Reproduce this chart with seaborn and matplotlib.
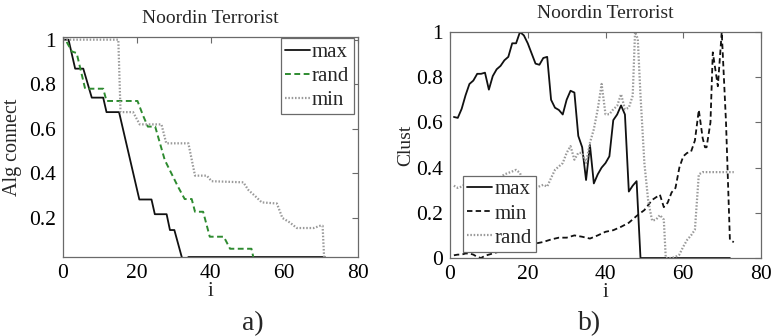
import matplotlib
matplotlib.use("Agg")
import matplotlib.pyplot as plt
import seaborn as sns
from matplotlib.ticker import FuncFormatter

# ---------------- data ----------------
# Panel a) Algebraic connectivity vs i
a_max_x = [0, 1.5, 3.3, 5.5, 7.8, 10.9, 11.8, 15.2, 20.7, 24, 24.9, 28.1, 29, 30.2, 32.2, 33, 34, 71]
a_max_y = [1, 1, 0.87, 0.87, 0.74, 0.74, 0.675, 0.675, 0.283, 0.283, 0.217, 0.217, 0.146, 0.146, 0.025, 0.0, 0.025, 0.025]

a_rand_x = [1, 2.4, 3.7, 6, 10.9, 11.8, 20.2, 21.7, 23, 25, 27.6, 31.2, 33, 34.9, 35.8, 38, 39.8, 43.6, 45.3, 51.1, 51.6]
a_rand_y = [0.99, 0.947, 0.94, 0.78, 0.78, 0.725, 0.725, 0.66, 0.61, 0.61, 0.46, 0.34, 0.285, 0.285, 0.228, 0.228, 0.116, 0.116, 0.062, 0.062, 0.025]

a_min_x = [0, 15, 15.6, 19, 20.8, 26.7, 28, 34, 35.8, 39, 40.3, 48.9, 50.3, 52, 53.9, 58, 59.5, 61.5, 63.4, 68, 69.7, 70.4, 70.8]
a_min_y = [1, 1, 0.675, 0.675, 0.62, 0.62, 0.535, 0.535, 0.39, 0.39, 0.365, 0.36, 0.325, 0.3, 0.27, 0.265, 0.2, 0.18, 0.155, 0.155, 0.165, 0.165, 0.025]

# Panel b) Clustering vs i
b_max_x = [1, 2, 3, 4, 5, 6, 7, 8, 9, 10, 11, 12, 13, 14, 15, 16, 17, 18, 19, 20,
           21, 22, 23, 24, 25, 26, 27, 28, 29, 30, 31, 32, 33, 34, 35, 36, 37, 38, 39, 40,
           41, 42, 43, 44, 45, 46, 47, 48, 49, 72]
b_max_y = [0.624, 0.62, 0.66, 0.72, 0.77, 0.785, 0.815, 0.815, 0.82, 0.745, 0.805, 0.835, 0.85, 0.875, 0.89, 0.95, 0.95, 1.0, 0.985, 0.95,
           0.905, 0.86, 0.855, 0.885, 0.89, 0.70, 0.665, 0.655, 0.635, 0.70, 0.74, 0.732, 0.54, 0.49, 0.345, 0.50, 0.33, 0.37, 0.40, 0.42,
           0.45, 0.61, 0.635, 0.675, 0.635, 0.294, 0.32, 0.34, 0.0, 0.0]

b_min_x = [1, 2, 3, 4, 5, 6, 7, 8, 9, 10, 11, 12, 14, 16, 18, 20, 21, 22, 24, 26, 28, 30, 32, 34, 36, 38, 40,
           42, 44, 46, 48, 50, 52, 54, 55, 56, 57, 58, 59, 60, 61, 62, 63, 64, 65, 65.6, 66, 67, 67.6, 68.9, 69.9, 71, 72, 73]
b_min_y = [0.012, 0.015, 0.015, 0.02, 0.02, 0.015, 0.005, 0.0, 0.01, 0.015, 0.02, 0.025, 0.035, 0.045, 0.05, 0.055, 0.056, 0.064, 0.071, 0.082, 0.09, 0.09, 0.10, 0.094, 0.086, 0.10, 0.116,
           0.123, 0.138, 0.156, 0.186, 0.212, 0.257, 0.28, 0.225, 0.245, 0.29, 0.31, 0.40, 0.45, 0.465, 0.47, 0.52, 0.655, 0.53, 0.49, 0.49, 0.6, 0.91, 0.76, 1.0, 0.6, 0.08, 0.07]

b_rand_x = [1, 2, 3, 5, 8, 10, 12, 14, 16, 17, 18, 19, 20, 22, 24, 25, 26, 27, 28, 29, 30, 31, 32, 33, 34, 35, 36, 37, 38, 39, 40,
            41, 42, 43, 44, 45, 46, 47, 47.6, 48.3, 49, 50, 51, 52, 53, 54, 55, 55.5, 56, 57, 58, 59, 60, 61, 62, 63, 64, 65, 73]
b_rand_y = [0.32, 0.31, 0.316, 0.34, 0.354, 0.35, 0.345, 0.37, 0.383, 0.39, 0.376, 0.33, 0.30, 0.31, 0.324, 0.316, 0.354, 0.39, 0.405, 0.42, 0.465, 0.495, 0.435, 0.465, 0.465, 0.42, 0.51, 0.57, 0.658, 0.77, 0.636,
            0.636, 0.658, 0.673, 0.725, 0.658, 0.665, 0.718, 1.0, 0.97, 0.72, 0.42, 0.25, 0.165, 0.17, 0.19, 0.17, 0.0, 0.0, 0.0, 0.005, 0.015, 0.05, 0.08, 0.10, 0.125, 0.37, 0.38, 0.38]

xticks = [0, 20, 40, 60, 80]
a_yticks = [0.2, 0.4, 0.6, 0.8, 1.0]
b_yticks = [0, 0.2, 0.4, 0.6, 0.8, 1.0]
title = "Noordin Terrorist"

# ---------------- style ----------------
sns.set_theme(style="white")
plt.rcParams['font.family'] = ['Liberation Serif', 'DejaVu Serif']

fig = plt.figure(figsize=(7.72, 3.36), dpi=100)
W, H = 772, 336
axA = fig.add_axes([63 / W, 1 - 257 / H, 295 / W, 220 / H])
axB = fig.add_axes([450 / W, 1 - 258 / H, 311 / W, 226 / H])

BLACK = '#111111'
GREEN = '#2e8b30'
GREY = '#9a9a9a'
SPINE = '#6a6a6a'
dash = (0, (3.0, 1.8))
dot = (0, (0.7, 0.8))

# panel a
sns.lineplot(x=a_max_x, y=a_max_y, ax=axA, sort=False, estimator=None, color=BLACK, lw=1.3, label='max')
sns.lineplot(x=a_rand_x, y=a_rand_y, ax=axA, sort=False, estimator=None, color=GREEN, lw=1.4, linestyle=dash, label='rand')
sns.lineplot(x=a_min_x, y=a_min_y, ax=axA, sort=False, estimator=None, color=GREY, lw=1.6, linestyle=dot, label='min')

# panel b
sns.lineplot(x=b_max_x, y=b_max_y, ax=axB, sort=False, estimator=None, color=BLACK, lw=1.3, label='max')
sns.lineplot(x=b_min_x, y=b_min_y, ax=axB, sort=False, estimator=None, color=BLACK, lw=1.3, linestyle=dash, label='min')
sns.lineplot(x=b_rand_x, y=b_rand_y, ax=axB, sort=False, estimator=None, color=GREY, lw=1.6, linestyle=dot, label='rand')

fmt = FuncFormatter(lambda v, p: f"{v:g}")
for ax, yt, ylim in ((axA, a_yticks, (0.025, 1.012)), (axB, b_yticks, (0, 1.0))):
    ax.set_xlim(0, 80)
    ax.set_ylim(*ylim)
    ax.set_xticks(xticks)
    ax.set_yticks(yt)
    ax.xaxis.set_major_formatter(fmt)
    ax.yaxis.set_major_formatter(fmt)
    ax.tick_params(direction='in', length=4, width=0.8, color=SPINE, top=True, right=True,
                   labelsize=15.5, labelcolor='black')
    ax.tick_params(axis='y', pad=5)
    ax.tick_params(axis='x', pad=5)
    for s in ax.spines.values():
        s.set_color(SPINE)
        s.set_linewidth(0.9)
        s.set_visible(True)
    ax.set_title(title, fontsize=14, pad=10)
    ax.set_xlabel('i', fontsize=15)
    ax.xaxis.set_label_coords(0.5, -0.112)

axA.set_ylabel('Alg connect', fontsize=14.5)
axA.yaxis.set_label_coords(-0.14, 0.5)
axB.set_ylabel('Clust', fontsize=14)
axB.yaxis.set_label_coords(-0.115, 0.5)

leg_kw = dict(fontsize=15, handlelength=1.2, handletextpad=0.1, labelspacing=0.22,
              borderpad=0.2, borderaxespad=0, fancybox=False, framealpha=1, edgecolor=SPINE)
legA = axA.legend(loc='upper right', bbox_to_anchor=(0.985, 0.995), **leg_kw)
legB = axB.legend(loc='lower left', bbox_to_anchor=(0.042, 0.027), **leg_kw)
for leg in (legA, legB):
    leg.get_frame().set_linewidth(0.9)

fig.text(253 / W, 1 - 330 / H, 'a)', fontsize=20, ha='center', va='baseline')
fig.text(590 / W, 1 - 330 / H, 'b)', fontsize=20, ha='center', va='baseline')

fig.savefig('out.png', dpi=100)
